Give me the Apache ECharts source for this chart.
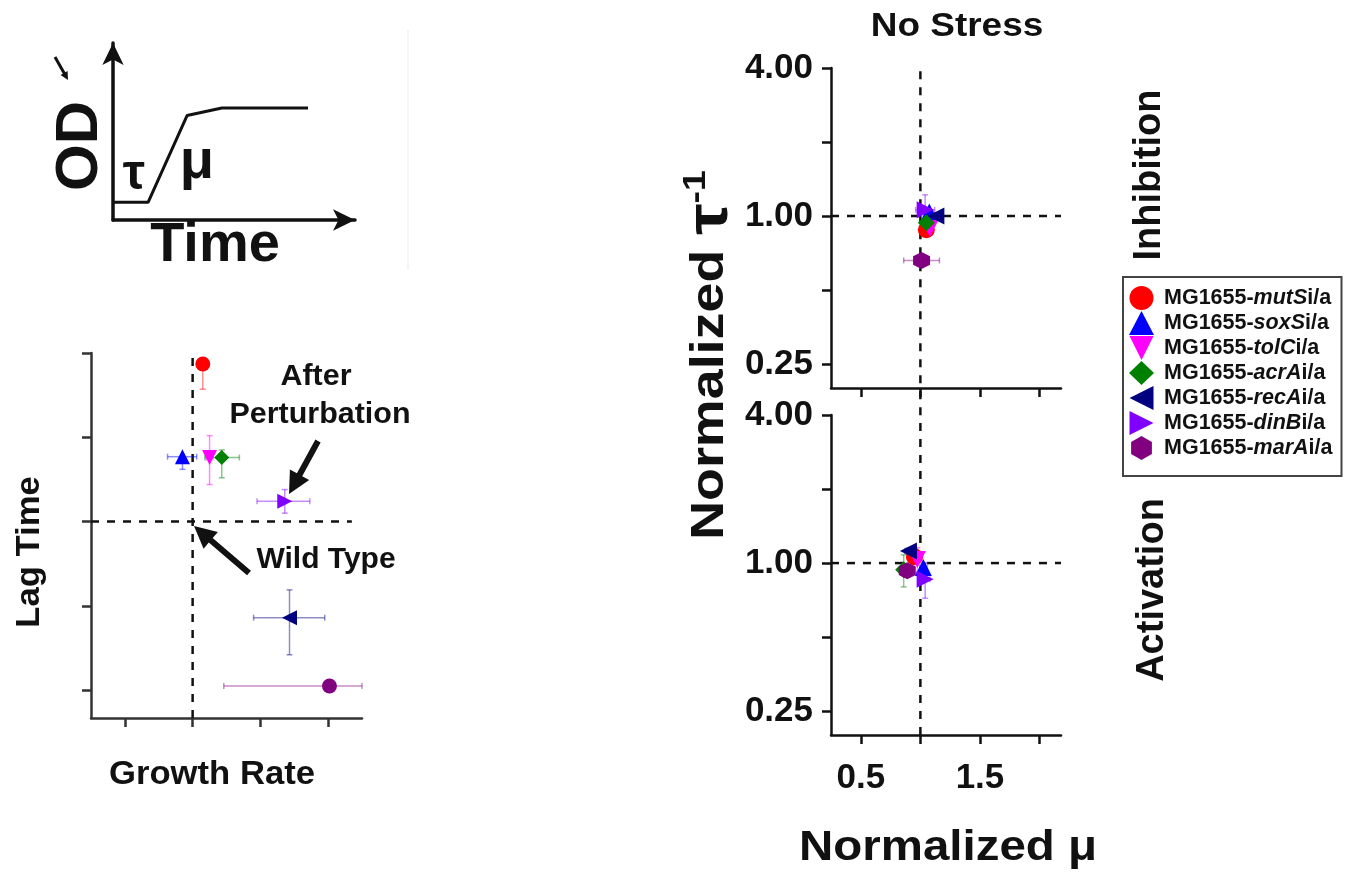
<!DOCTYPE html>
<html>
<head>
<meta charset="utf-8">
<script src="https://cdn.jsdelivr.net/npm/echarts@6/dist/echarts.min.js"></script>
<style>html,body{margin:0;padding:0;background:#fff}#c{width:1346px;height:873px}</style>
</head>
<body>
<div id="c"></div>
<script>
// ---------------- data ----------------
const genes = ['mutS', 'soxS', 'tolC', 'acrA', 'recA', 'dinB', 'marA'];
const colors = ['#ff0000', '#0000ff', '#ff00ff', '#008000', '#000080', '#8000ff', '#800080'];

// Inhibition panel (No Stress): normalized mu, normalized tau^-1
const inhMu = [1.05, 1.075, 1.08, 1.05, 1.13, 1.04, 1.01];
const inhTau = [0.88, 1.04, 0.89, 0.94, 1.00, 1.06, 0.66];
const inhMuErr = [0.02, 0.03, 0.02, 0.03, 0.03, 0.08, 0.15];
const inhTauErr = [0.02, 0.03, 0.02, 0.02, 0.03, 0.16, 0.02];

// Activation panel
const actMu = [0.95, 1.025, 0.975, 0.86, 0.90, 1.04, 0.89];
const actTau = [1.06, 0.96, 1.035, 0.94, 1.12, 0.86, 0.93];
const actMuErr = [0.02, 0.03, 0.04, 0.03, 0.03, 0.04, 0.03];
const actTauErr = [0.04, 0.04, 0.12, 0.14, 0.03, 0.14, 0.03];

// Schematic lag-time vs growth-rate panel
const lagRate = [0.15, -0.15, 0.25, 0.43, 1.43, 1.36, 2.02];
const lagTime = [1.87, 0.77, 0.76, 0.76, -1.14, 0.24, -1.95];
const lagRateLo = [0.15, -0.37, 0.20, 0.18, 0.90, 0.95, 0.46];
const lagRateHi = [0.15, 0.06, 0.30, 0.69, 1.95, 1.73, 2.50];
const lagTimeLo = [1.57, 0.62, 0.44, 0.52, -1.58, 0.10, -1.95];
const lagTimeHi = [1.87, 0.77, 1.02, 0.85, -0.81, 0.38, -1.95];

// OD growth curve schematic
const curveTime = [0, 1.45, 3.06, 4.5, 8.06];
const curveOD = [1.0, 1.0, 5.9, 6.33, 6.33];

// tick values
const muTicks = [0.5, 1, 1.5, 2];
const muLabels = [0.5, 1.5];
const tauTicks = [0.25, 0.5, 1, 2, 4];
const tauLabels = [0.25, 1, 4];
const rateTicks = [-1, 0, 1, 2];
const lagTicks = [-2, -1, 0, 1, 2];

// ---------------- helpers ----------------
const FF = 'Liberation Sans, Arial, Helvetica, sans-serif';
const triDown = 'path://M0,0L10,0L5,10Z';
const triLeft = 'path://M0,5L10,0L10,10Z';
const triRight = 'path://M10,5L0,0L0,10Z';
const hexagon = 'path://M5,0L9.33,2.5L9.33,7.5L5,10L0.67,7.5L0.67,2.5Z';
const rightSymbols = ['circle', 'triangle', triDown, 'diamond', triLeft, triRight, hexagon];
const leftSymbols = ['circle', 'triangle', triDown, 'diamond', triLeft, triRight, 'circle'];
const names = genes.map(g => 'MG1655-' + g + 'i/a');

function errRender(params, api) {
  const x = api.value(0), y = api.value(1);
  const xl = api.coord([api.value(2), y]), xh = api.coord([api.value(3), y]);
  const yl = api.coord([x, api.value(4)]), yh = api.coord([x, api.value(5)]);
  const color = api.visual('color');
  const style = { stroke: color, lineWidth: 1.5, opacity: 0.45 };
  const cap = 3;
  const ch = [];
  if (Math.abs(xh[0] - xl[0]) > 1) {
    ch.push({ type: 'line', shape: { x1: xl[0], y1: xl[1], x2: xh[0], y2: xh[1] }, style });
    ch.push({ type: 'line', shape: { x1: xl[0], y1: xl[1] - cap, x2: xl[0], y2: xl[1] + cap }, style });
    ch.push({ type: 'line', shape: { x1: xh[0], y1: xh[1] - cap, x2: xh[0], y2: xh[1] + cap }, style });
  }
  if (Math.abs(yh[1] - yl[1]) > 1) {
    ch.push({ type: 'line', shape: { x1: yl[0], y1: yl[1], x2: yh[0], y2: yh[1] }, style });
    ch.push({ type: 'line', shape: { x1: yl[0] - cap, y1: yl[1], x2: yl[0] + cap, y2: yl[1] }, style });
    ch.push({ type: 'line', shape: { x1: yh[0] - cap, y1: yh[1], x2: yh[0] + cap, y2: yh[1] }, style });
  }
  return { type: 'group', children: ch };
}

function arrowPts(x1, y1, x2, y2, w, hl, hw) {
  const dx = x2 - x1, dy = y2 - y1, L = Math.hypot(dx, dy);
  const ux = dx / L, uy = dy / L, nx = -uy, ny = ux;
  const bx = x2 - ux * hl, by = y2 - uy * hl;
  return [
    [x1 + nx * w / 2, y1 + ny * w / 2], [bx + nx * w / 2, by + ny * w / 2],
    [bx + nx * hw / 2, by + ny * hw / 2], [x2, y2],
    [bx - nx * hw / 2, by - ny * hw / 2], [bx - nx * w / 2, by - ny * w / 2],
    [x1 - nx * w / 2, y1 - ny * w / 2]
  ];
}

function txt(text, x, y, size, opts) {
  opts = opts || {};
  return {
    type: 'text', x, y, rotation: opts.rot || 0, scaleX: opts.sx || 1, z: 100,
    style: {
      text, fontSize: size, fontWeight: 'bold', fontFamily: FF, fill: '#111',
      align: 'center', verticalAlign: 'middle', rich: opts.rich
    }
  };
}

// ---------------- axes ----------------
const axLine = { show: true, onZero: false, lineStyle: { color: '#111', width: 2.5 } };
const noSplit = { show: false };

const xAxes = [
  { gridIndex: 0, type: 'value', min: 0, max: 10,
    axisLine: { show: true, onZero: false, symbol: ['none', 'arrow'], symbolSize: [16, 22], lineStyle: { color: '#111', width: 3.5 } },
    axisTick: { show: false }, axisLabel: { show: false }, splitLine: noSplit },
  { gridIndex: 1, type: 'value', min: -1.5, max: 2.5,
    axisLine: { show: true, onZero: false, lineStyle: { color: '#333', width: 2.5 } },
    axisTick: { show: true, length: 9, customValues: rateTicks, lineStyle: { color: '#333', width: 2.5 } },
    axisLabel: { show: false }, splitLine: noSplit },
  { gridIndex: 2, type: 'value', min: 0.25, max: 2.18, axisLine: axLine,
    axisTick: { show: true, length: 9, customValues: muTicks, lineStyle: { color: '#111', width: 2.5 } },
    axisLabel: { show: false }, splitLine: noSplit },
  { gridIndex: 3, type: 'value', min: 0.25, max: 2.18, axisLine: axLine,
    axisTick: { show: true, length: 9, customValues: muTicks, lineStyle: { color: '#111', width: 2.5 } },
    axisLabel: { show: true, customValues: muLabels, margin: 26, color: '#111', fontSize: 35, fontWeight: 'bold', fontFamily: FF,
      formatter: v => String(v) }, splitLine: noSplit }
];
const yAxes = [
  { gridIndex: 0, type: 'value', min: 0, max: 10,
    axisLine: { show: true, onZero: false, symbol: ['none', 'arrow'], symbolSize: [16, 22], lineStyle: { color: '#111', width: 3.5 } },
    axisTick: { show: false }, axisLabel: { show: false }, splitLine: noSplit },
  { gridIndex: 1, type: 'value', min: -2.33, max: 2,
    axisLine: { show: true, onZero: false, lineStyle: { color: '#333', width: 2.5 } },
    axisTick: { show: true, length: 9, customValues: lagTicks, lineStyle: { color: '#333', width: 2.5 } },
    axisLabel: { show: false }, splitLine: noSplit },
  { gridIndex: 2, type: 'log', logBase: 2, min: 0.2, max: 4, axisLine: axLine,
    axisTick: { show: true, length: 9, customValues: tauTicks, lineStyle: { color: '#111', width: 2.5 } },
    axisLabel: { show: true, customValues: tauLabels, margin: 18, color: '#111', fontSize: 35, fontWeight: 'bold', fontFamily: FF,
      formatter: v => Number(v).toFixed(2) }, splitLine: noSplit },
  { gridIndex: 3, type: 'log', logBase: 2, min: 0.2, max: 4, axisLine: axLine,
    axisTick: { show: true, length: 9, customValues: tauTicks, lineStyle: { color: '#111', width: 2.5 } },
    axisLabel: { show: true, customValues: tauLabels, margin: 18, color: '#111', fontSize: 35, fontWeight: 'bold', fontFamily: FF,
      formatter: v => Number(v).toFixed(2) }, splitLine: noSplit }
];

// ---------------- series ----------------
const series = [];
const dash = { color: '#111', width: 2.5, type: [8, 8] };
function dashLine(idx, pts) {
  series.push({ type: 'line', xAxisIndex: idx, yAxisIndex: idx, data: pts, symbol: 'none', clip: false,
    lineStyle: dash, silent: true, z: 1, animation: false });
}
// schematic growth curve
series.push({ type: 'line', xAxisIndex: 0, yAxisIndex: 0, data: curveTime.map((t, i) => [t, curveOD[i]]),
  symbol: 'none', lineStyle: { color: '#111', width: 3 }, silent: true, animation: false });
// dashed reference lines (the upper vertical one runs on through the gap between panels)
dashLine(1, [[0, -2.33], [0, 2]]);
dashLine(1, [[-1.5, 0], [2.35, 0]]);
dashLine(2, [[1, 0.155], [1, 4]]);
dashLine(2, [[0.25, 1], [2.18, 1]]);
dashLine(3, [[1, 0.2], [1, 4]]);
dashLine(3, [[0.25, 1], [2.18, 1]]);

// error bars
genes.forEach((g, i) => {
  series.push({ type: 'custom', name: 'err-inh-' + g, xAxisIndex: 2, yAxisIndex: 2, renderItem: errRender,
    itemStyle: { color: colors[i] }, encode: { x: 0, y: 1 }, silent: true, animation: false, z: 2,
    data: [[inhMu[i], inhTau[i], inhMu[i] - inhMuErr[i], inhMu[i] + inhMuErr[i], inhTau[i] - inhTauErr[i], inhTau[i] + inhTauErr[i]]] });
  series.push({ type: 'custom', name: 'err-act-' + g, xAxisIndex: 3, yAxisIndex: 3, renderItem: errRender,
    itemStyle: { color: colors[i] }, encode: { x: 0, y: 1 }, silent: true, animation: false, z: 2,
    data: [[actMu[i], actTau[i], actMu[i] - actMuErr[i], actMu[i] + actMuErr[i], actTau[i] - actTauErr[i], actTau[i] + actTauErr[i]]] });
  series.push({ type: 'custom', name: 'err-lag-' + g, xAxisIndex: 1, yAxisIndex: 1, renderItem: errRender,
    itemStyle: { color: colors[i] }, encode: { x: 0, y: 1 }, silent: true, animation: false, z: 2,
    data: [[lagRate[i], lagTime[i], lagRateLo[i], lagRateHi[i], lagTimeLo[i], lagTimeHi[i]]] });
});
// markers (right panels first so the legend takes their symbols)
genes.forEach((g, i) => {
  series.push({ type: 'scatter', name: names[i], xAxisIndex: 2, yAxisIndex: 2, symbol: rightSymbols[i], symbolSize: 17,
    itemStyle: { color: colors[i], opacity: 1 }, data: [[inhMu[i], inhTau[i]]], z: 3, animation: false });
});
genes.forEach((g, i) => {
  series.push({ type: 'scatter', name: names[i], xAxisIndex: 3, yAxisIndex: 3, symbol: rightSymbols[i], symbolSize: 17,
    itemStyle: { color: colors[i], opacity: 1 }, data: [[actMu[i], actTau[i]]], z: 3, animation: false });
});
genes.forEach((g, i) => {
  series.push({ type: 'scatter', name: 'lag-' + g, xAxisIndex: 1, yAxisIndex: 1, symbol: leftSymbols[i], symbolSize: 15,
    itemStyle: { color: colors[i], opacity: 1 }, data: [[lagRate[i], lagTime[i]]], z: 3, animation: false });
});

// ---------------- graphics (annotations) ----------------
const graphic = [
  { type: 'line', shape: { x1: 408, y1: 30, x2: 408, y2: 270 }, style: { stroke: '#f2f2f2', lineWidth: 1.5 } },
  { type: 'polygon', shape: { points: arrowPts(55, 57, 68, 80, 3, 8, 8) }, style: { fill: '#111' } },
  txt('OD', 80, 146, 60, { rot: Math.PI / 2 }),
  txt('τ', 134, 175, 50),
  txt('μ', 197, 163, 56),
  txt('Time', 215, 246, 56),
  txt('Lag Time', 30, 552, 33, { rot: Math.PI / 2, sx: 1.05 }),
  txt('Growth Rate', 212, 775, 33, { sx: 1.05 }),
  txt('After', 316, 377, 29, { sx: 1.05 }),
  txt('Perturbation', 320, 415, 29, { sx: 1.05 }),
  txt('Wild Type', 326, 560, 30),
  { type: 'polygon', z: 100, shape: { points: arrowPts(318, 441, 289, 494, 6, 22, 22) }, style: { fill: '#111' } },
  { type: 'polygon', z: 100, shape: { points: arrowPts(249, 573, 194, 526, 6, 22, 22) }, style: { fill: '#111' } },
  txt('No Stress', 957, 27, 33, { sx: 1.12 }),
  txt('Inhibition', 1150, 175, 38, { rot: Math.PI / 2 }),
  txt('Activation', 1153, 590, 38, { rot: Math.PI / 2 }),
  txt('Normalized μ', 948, 848, 42, { sx: 1.13 }),
  {
    type: 'text', x: 710, y: 355, rotation: Math.PI / 2, scaleX: 1.17, z: 100,
    style: {
      text: '{a|Normalized }{t|τ}{b|-1}', fill: '#111', align: 'center', verticalAlign: 'middle',
      rich: {
        a: { fontSize: 46, fontWeight: 'bold', fontFamily: FF, fill: '#111', lineHeight: 60 },
        t: { fontSize: 60, fontWeight: 'bold', fontFamily: FF, fill: '#111', lineHeight: 60 },
        b: { fontSize: 32, fontWeight: 'bold', fontFamily: FF, fill: '#111', lineHeight: 40, verticalAlign: 'top' }
      }
    }
  }
];

// ---------------- option ----------------
const option = {
  backgroundColor: '#fff',
  animation: false,
  grid: [
    { left: 113, top: 43, width: 242, height: 177 },
    { left: 91, top: 353, width: 271, height: 365 },
    { left: 831, top: 68, width: 230, height: 320 },
    { left: 831, top: 415, width: 230, height: 320 }
  ],
  xAxis: xAxes,
  yAxis: yAxes,
  legend: {
    data: names, orient: 'vertical', left: 1123, top: 277, selectedMode: false,
    itemWidth: 25, itemHeight: 24, itemGap: 1,
    padding: [9, 9, 16, 6], borderColor: '#444', borderWidth: 2, backgroundColor: '#fff',
    formatter: name => {
      const g = name.slice(7, name.length - 3);
      return '{p|MG1655-}{i|' + g + '}{n|i/a}';
    },
    textStyle: {
      color: '#111', fontSize: 21.5, fontWeight: 'bold', fontFamily: FF,
      rich: {
        p: { fontSize: 21.5, fontWeight: 'bold', fontFamily: FF, color: '#111', padding: [0, 0, 0, 5] },
        n: { fontSize: 21.5, fontWeight: 'bold', fontFamily: FF, color: '#111' },
        i: { fontSize: 21.5, fontWeight: 'bold', fontStyle: 'italic', fontFamily: FF, color: '#111' }
      }
    }
  },
  graphic,
  series
};
const chart = echarts.init(document.getElementById('c'), null, { renderer: 'canvas' });
chart.setOption(option);
</script>
</body>
</html>
